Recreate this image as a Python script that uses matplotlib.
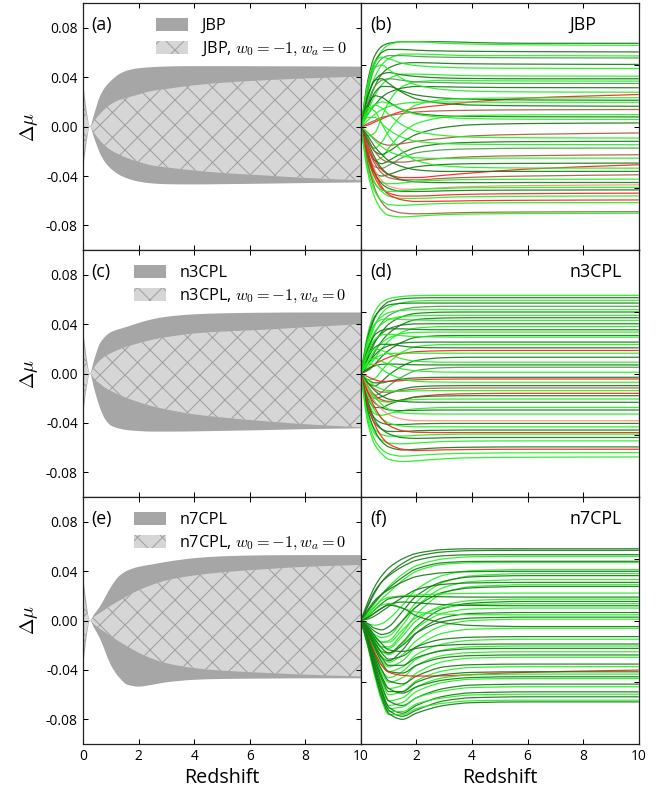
import numpy as np
import matplotlib.pyplot as plt
from matplotlib.path import Path
from matplotlib.patches import PathPatch

plt.rcParams['font.family'] = ['Open Sans', 'DejaVu Sans']
plt.rcParams['mathtext.fontset'] = 'cm'
plt.rcParams['hatch.linewidth'] = 0.5
plt.rcParams['hatch.color'] = '#a0a0a0'

#-------------------------------------------
#   data (all delta-mu values in units of 1e-3)
#-------------------------------------------
MODELS = ['JBP', 'n3CPL', 'n7CPL']
PANEL_TAGS = [('(a)', '(b)'), ('(c)', '(d)'), ('(e)', '(f)')]

Z_BAND = [0, 0.1, 0.25, 0.4, 0.6, 0.8, 1.0, 1.3, 1.6, 2.0, 2.5, 3.0, 4.0, 5.0, 6.5, 8.0, 10.0]

JBP_FULL_HI = [37, 18, 0, 10, 24, 32, 37, 42.5, 45.5, 47.3, 48.2, 48.7, 49, 49, 48.9, 48.8, 48.6]
JBP_FULL_LO = [-36, -17, 0, -9, -21, -29, -34, -39, -42, -44.5, -46, -46.6, -46.8, -46.6, -46.2, -45.7, -45.2]
JBP_LCDM_HI = [28, 12, 0, 4.5, 10, 14.5, 18, 21.5, 23.5, 26, 29, 30.5, 33.5, 35.5, 37.5, 39, 40.5]
JBP_LCDM_LO = [-28, -12, 0, -5, -11, -15.5, -19, -22.5, -25.5, -28.5, -31.5, -33, -35.5, -37.5, -39.5, -41.5, -43.5]

N3_FULL_HI = [37, 18, 0, 11, 24, 30, 33.5, 36, 38, 41, 44, 46, 48, 48.8, 49.3, 49.5, 49.5]
N3_FULL_LO = [-35, -16, 0, -12, -27, -37, -42, -44.5, -45.8, -46.5, -47, -47, -46.8, -46.4, -45.8, -45, -44.3]
N3_LCDM_HI = [28, 12, 0, 5, 10.5, 14, 16.5, 19.5, 22, 24.5, 27.5, 29.5, 32.5, 34, 35.5, 37.5, 40]
N3_LCDM_LO = [-28, -12, 0, -4, -8, -11.5, -14, -17, -20, -23, -26.5, -29, -33, -35.5, -38.5, -41, -43.5]

N7_FULL_HI = [38, 18, 0, 5, 11, 19, 27, 36, 40.5, 43.5, 45.5, 47.5, 50.5, 52, 52.8, 53, 53]
N7_FULL_LO = [-40, -18, 0, -6, -14, -25, -36, -46, -52, -53.5, -52, -50, -48, -47.3, -47, -46.8, -46.8]
N7_LCDM_HI = [28, 12, 0, 3, 6, 9, 12, 16, 20, 24.5, 29, 32.5, 36.5, 39, 41.5, 43.5, 45]
N7_LCDM_LO = [-28, -12, 0, -3, -6.5, -9.5, -12.5, -17, -21, -26, -31, -34.5, -38.5, -40.5, -42.3, -43.8, -45.3]

Z_KNOTS = [0, 0.25, 0.5, 0.75, 1.0, 1.5, 2.0, 3.0, 4.0, 6.0, 10.0]

# kind: d dark green, g light green, m mid green, r red, b brown, p pink
JBP_KIND = 'dgdgmdggdg' + 'mdrgdgdbgd' + 'gdbgdgmbgd' + 'rgdbgdpgdr' + 'grgbgg'
JBP_LINES = [
    [0, 30, 46, 52, 54, 55, 55, 55, 54.5, 54, 54],
    [0, 22, 40, 49, 53, 55, 55, 54, 53.5, 53, 52.7],
    [0, 26, 42, 48, 50, 50, 49.5, 49, 48.8, 48.6, 48.4],
    [0, 18, 32, 40, 44, 47, 47, 46.5, 46, 46, 45.8],
    [0, 24, 38, 44, 46, 46, 45.5, 45, 44.8, 44.6, 44.5],
    [0, 14, 26, 34, 38, 41, 41.5, 41, 40.7, 40.5, 40.3],
    [0, 28, 42, 45, 44, 41, 39.5, 38.5, 38, 37.8, 37.7],
    [0, 10, 20, 27, 31, 34, 34, 33.5, 33, 32.8, 32.7],
    [0, 20, 30, 34, 35, 33.5, 32.5, 31.5, 31.2, 31, 31],
    [0, -6, -4, 6, 16, 26, 29, 30, 29.8, 29.6, 29.5],
    [0, 16, 26, 30, 31, 30, 29, 28.5, 28.2, 28, 28],
    [0, 8, 14, 19, 22, 25, 26, 25.8, 25.5, 25.3, 25.2],
    [0, 1, 3, 5, 7, 10, 12, 14, 16, 18.5, 20.8],
    [0, 26, 38, 40, 37, 31, 27, 24, 23, 22.5, 22.3],
    [0, 12, 22, 26, 26, 23, 20.5, 18.5, 17.8, 17.3, 17.1],
    [0, -10, -14, -10, -3, 8, 14, 17.5, 18.3, 18.6, 18.7],
    [0, 20, 30, 31, 28, 22, 18, 15, 14, 13.5, 13.2],
    [0, 2, 4, 6, 7, 8.5, 9.5, 10.3, 10.6, 10.9, 11.1],
    [0, 4, 8, 11, 13, 15, 15.8, 16, 15.9, 15.8, 15.8],
    [0, 14, 20, 19, 16, 11, 8.5, 7, 6.6, 6.4, 6.3],
    [0, -14, -22, -20, -14, -4, 2, 6, 7.2, 7.6, 7.8],
    [0, -8, -16, -18, -16, -10, -5, -0.5, 1.2, 2, 2.4],
    [0, -4, -8, -11, -12, -11, -9.5, -7.5, -6, -5, -4.1],
    [0, 8, 14, 16, 15, 11, 8, 6, 5.2, 4.8, 4.6],
    [0, -14, -22, -24, -22, -17, -13.5, -11, -10.2, -9.7, -9.5],
    [0, 10, 14, 12, 8, 1, -3, -5.8, -6.8, -7.2, -7.4],
    [0, -18, -26, -27, -25, -20, -17, -15, -14.4, -14, -13.9],
    [0, -8, -16, -21, -23, -23, -22, -20.5, -19.5, -18.8, -18.2],
    [0, 6, 6, 2, -2, -7, -9.5, -11, -11.4, -11.6, -11.7],
    [0, -20, -30, -32, -31, -28, -26, -24.5, -24, -23.8, -23.6],
    [0, -12, -22, -28, -31, -33, -33, -31.5, -30, -27.5, -24.7],
    [0, 12, 10, 2, -6, -16, -22, -25.5, -26.4, -26.8, -26.9],
    [0, -6, -13, -18, -22, -26, -28, -29, -29, -29, -29],
    [0, -14, -24, -30, -33, -34.5, -34.5, -33.5, -32.8, -32, -31.2],
    [0, -4, -9, -13, -16, -19, -20.2, -20.6, -20.5, -20.4, -20.4],
    [0, -10, -20, -27, -31, -34.5, -35.8, -36.3, -36.3, -36.2, -36.2],
    [0, -16, -28, -35, -38.5, -40.5, -40.5, -39.5, -38.8, -38.2, -37.7],
    [0, -22, -32, -36, -37, -36.5, -35.5, -34.6, -34.3, -34.1, -34],
    [0, -18, -30, -37, -40, -42, -42, -41.6, -41.3, -41.1, -41],
    [0, -20, -33, -40, -43, -45, -45, -44.3, -43.8, -43.4, -43.1],
    [0, -24, -36, -42, -45, -46.5, -46.5, -45.8, -45.4, -45.1, -44.9],
    [0, -16, -30, -39, -44, -47.5, -48.5, -48.3, -48, -47.7, -47.5],
    [0, -26, -37, -41, -42, -41.5, -40.8, -40, -39.6, -39.4, -39.3],
    [0, -24, -40, -49, -53.5, -56, -56.5, -56, -55.6, -55.3, -55.1],
    [0, -28, -42, -48, -50.5, -51, -50.5, -49.8, -49.5, -49.3, -49.2],
    [0, -30, -46, -54, -57.5, -58.5, -58, -57, -56.6, -56.3, -56.1],
]

N3_KIND = 'gdgdmgdgdg' + 'dgdgdgdgdr' + 'gdgdmgdrgd' + 'bgrdgdgdpd' + 'gdgrgdgdrg' + 'g'
N3_LINES = [
    [0, 26, 40, 46, 48.5, 50, 50.5, 50.7, 50.7, 50.7, 50.7],
    [0, 22, 36, 43, 46.5, 48.5, 49, 49.2, 49.2, 49.2, 49.2],
    [0, 18, 31, 39, 43, 46, 47, 47.5, 47.5, 47.5, 47.5],
    [0, 24, 37, 42, 44.5, 45.5, 45.7, 45.7, 45.7, 45.7, 45.7],
    [0, 14, 26, 33, 37.5, 41.5, 43, 43.6, 43.6, 43.6, 43.6],
    [0, 20, 32, 37, 39.5, 41, 41.4, 41.4, 41.4, 41.4, 41.4],
    [0, 10, 20, 27, 32, 37, 39, 39.8, 39.9, 39.9, 39.9],
    [0, 16, 27, 32, 35, 37, 37.5, 37.7, 37.7, 37.7, 37.7],
    [0, 6, 14, 21, 26, 32, 35, 36, 36.2, 36.2, 36.2],
    [0, 22, 32, 35, 35.5, 35, 34.7, 34.5, 34.5, 34.5, 34.5],
    [0, 12, 21, 26, 29, 31.5, 32.2, 32.3, 32.3, 32.3, 32.3],
    [0, 4, 10, 16, 21, 27, 29.5, 30.5, 30.6, 30.6, 30.6],
    [0, 16, 25, 28, 29, 29, 28.6, 28.4, 28.4, 28.4, 28.4],
    [0, 8, 15, 20, 23, 26, 26.7, 26.9, 26.9, 26.9, 26.9],
    [0, 2, 6, 11, 15, 20.5, 23.5, 24.6, 24.7, 24.7, 24.7],
    [0, 14, 22, 25, 25.5, 24.5, 24, 23.7, 23.6, 23.6, 23.6],
    [0, 6, 12, 16, 18, 19.8, 20.3, 20.4, 20.4, 20.4, 20.4],
    [0, -4, -3, 2, 7, 14, 17.5, 18.8, 18.9, 18.9, 18.9],
    [0, 10, 17, 19, 19, 17.8, 17, 16.7, 16.7, 16.7, 16.7],
    [0, 3, 6, 8.5, 10.5, 13, 14.2, 14.8, 15, 15, 15],
    [0, 6, 10, 12, 13, 13.2, 13.2, 13.2, 13.2, 13.2, 13.2],
    [0, -6, -8, -5, -1, 5, 8.5, 10.3, 10.6, 10.6, 10.6],
    [0, 12, 16, 15, 13, 9.5, 8, 7.4, 7.4, 7.4, 7.4],
    [0, 3, 5, 6, 6.2, 6, 5.7, 5.6, 5.6, 5.6, 5.6],
    [0, -10, -14, -12, -8, -2, 2, 3.8, 4.1, 4.1, 4.1],
    [0, 8, 10, 8, 6, 3, 1.8, 1, 0.9, 0.9, 0.9],
    [0, -4, -6, -6, -5, -3.5, -2.8, -2.4, -2.4, -2.4, -2.4],
    [0, -2, -4, -5, -5, -4.5, -4, -3.6, -3.5, -3.5, -3.5],
    [0, 6, 6, 3, 0, -3.5, -5, -5.5, -5.6, -5.6, -5.6],
    [0, -12, -16, -15, -13, -10, -8.5, -7.9, -7.8, -7.8, -7.8],
    [0, -6, -10, -12, -12, -11, -10, -9.4, -9.3, -9.3, -9.3],
    [0, -4, -8, -10, -11, -11.5, -11.2, -11, -11, -11, -11],
    [0, -8, -14, -17, -18, -17, -15, -13.5, -13, -12.8, -12.8],
    [0, -16, -22, -22, -20, -17, -15.2, -14.5, -14.3, -14.3, -14.3],
    [0, -10, -16, -18, -18.5, -17.5, -16.8, -16.5, -16.5, -16.5, -16.5],
    [0, -6, -11, -14.5, -16.5, -18, -18.5, -18.6, -18.6, -18.6, -18.6],
    [0, -18, -26, -27, -26, -24, -22.8, -22, -21.9, -21.9, -21.9],
    [0, -12, -19, -22, -23.5, -24, -23.8, -23.6, -23.6, -23.6, -23.6],
    [0, -10, -18, -23, -26.5, -29.5, -30.5, -30.6, -30.6, -30.6, -30.6],
    [0, -20, -29, -32, -33, -33, -32.6, -32.3, -32.3, -32.3, -32.3],
    [0, -8, -15, -20, -23, -25.5, -26, -26.2, -26.2, -26.2, -26.2],
    [0, -22, -32, -36, -37.5, -37.5, -37, -36.7, -36.6, -36.6, -36.6],
    [0, -14, -24, -29, -32, -34, -34.5, -34.5, -34.5, -34.5, -34.5],
    [0, -12, -22, -29, -33.5, -37, -38, -38.2, -38.2, -38.2, -38.2],
    [0, -26, -36, -39.5, -40.5, -40.5, -40, -39.4, -39.2, -39.2, -39.2],
    [0, -18, -30, -36, -39, -41.5, -42, -41.6, -41.4, -41.4, -41.4],
    [0, -28, -39, -43, -45, -45.5, -45, -44, -43.7, -43.6, -43.6],
    [0, -24, -37, -44, -47.5, -49.5, -49, -48, -47.7, -47.5, -47.5],
    [0, -20, -33, -41, -45.5, -49, -49.8, -49.4, -49.2, -49, -49],
    [0, -30, -43, -49, -52, -53.5, -53, -52, -51.6, -51.3, -51.2],
    [0, -32, -46, -52, -55.5, -57, -56.5, -55.2, -54.5, -54.2, -54],
]

N7_KIND = 'ddgdgdgdgd' + 'gdgdgdgdgd' + 'gdgdgdgdgd' + 'gdgdgdgrdg' + 'dgdgdgdgd'
N7_LINES = [
    [0, 12, 22, 29, 34, 40, 43.5, 46, 46.5, 46.5, 46.5],
    [0, 9, 18, 25, 30, 37, 41.5, 44.5, 45.3, 45.5, 45.5],
    [0, 5, 11, 17, 22, 30, 35.5, 40, 41.3, 41.6, 41.6],
    [0, 10, 19, 25, 29, 35, 39, 42, 42.6, 42.7, 42.7],
    [0, 4, 9, 14, 18, 26, 32, 36.5, 37.5, 37.7, 37.7],
    [0, 6, 12, 17, 21, 28, 33.5, 37.5, 38.3, 38.4, 38.4],
    [0, -2, -3, -2, 1, 10, 20, 29.5, 32.3, 33, 33],
    [0, 7, 13, 17, 20, 25, 28.5, 31, 31.7, 31.9, 31.9],
    [0, -4, -9, -11, -10, 0, 12, 25, 29, 30.4, 30.4],
    [0, -2, -5, -6, -4, 6, 16, 25.5, 28.3, 29.1, 29.1],
    [0, -5, -11, -14, -13, -3, 9, 21.5, 25.3, 26.5, 26.5],
    [0, 1, 3, 6, 9, 15, 20, 23.5, 24.4, 24.7, 24.7],
    [0, -6, -13, -17, -17, -8, 4, 18, 22, 23.2, 23.2],
    [0, -3, -7, -9, -8, 0, 9, 18.5, 21.2, 22.1, 22.1],
    [0, 4, 9, 13, 15, 16, 16.5, 17.3, 17.6, 17.8, 17.8],
    [0, 3, 7, 11, 14, 15.5, 15.6, 15.4, 15.2, 15.2, 15.2],
    [0, -5, -12, -17, -18, -10, 0, 10, 13, 13.9, 13.9],
    [0, -7, -15, -20, -21, -14, -4, 8, 11.3, 12.4, 12.4],
    [0, -4, -10, -14, -14, -6, 2, 8.5, 10.3, 10.9, 10.9],
    [0, 2, 5, 8, 10.5, 12, 11.5, 10.3, 9.8, 9.6, 9.6],
    [0, -6, -14, -20, -22, -15, -5, 5, 7.5, 8.1, 8.1],
    [0, -8, -17, -24, -26, -19, -8, 2, 4.6, 5.2, 5.2],
    [0, 3, 7, 10, 11, 8, 5.5, 4.2, 3.8, 3.7, 3.7],
    [0, -5, -12, -18, -21, -16, -8, -0.5, 1.6, 2.2, 2.2],
    [0, -7, -16, -23, -27, -22, -13, -3, 0, 0.9, 0.9],
    [0, 2, 5, 8, 10, 8, 3, -1.5, -3.2, -3.9, -3.9],
    [0, -8, -18, -26, -30, -26, -17, -8, -5.6, -5, -5],
    [0, -6, -14, -21, -25, -23, -17, -12, -10.8, -10.4, -10.4],
    [0, -9, -20, -29, -33, -30, -22, -15, -12.8, -12.1, -12.1],
    [0, -4, -10, -15, -19, -20, -18, -16, -15.4, -15.2, -15.2],
    [0, -10, -22, -32, -37, -33, -25, -19, -17, -16.5, -16.5],
    [0, -7, -16, -24, -29, -29, -24, -19.5, -18.3, -18, -18],
    [0, -11, -24, -34, -40, -37, -29, -22.5, -20.7, -20.2, -20.2],
    [0, -8, -18, -27, -33, -34, -29, -24, -22.7, -22.3, -22.3],
    [0, -12, -26, -37, -44, -42, -34, -26.5, -24.3, -23.8, -23.8],
    [0, -10, -22, -32, -39, -41, -36, -30, -28.6, -28.2, -28.2],
    [0, -13, -28, -40, -48, -46, -39, -32.5, -30.4, -29.9, -29.9],
    [0, -11, -21, -29, -33.5, -35.5, -36, -35.8, -35, -33.5, -32.1],
    [0, -12, -26, -38, -46, -46, -40, -35, -33.6, -33.2, -33.2],
    [0, -14, -30, -43, -52, -50, -43, -37, -35.2, -34.7, -34.7],
    [0, -11, -24, -36, -44, -47, -43, -38.5, -36.9, -36.4, -36.4],
    [0, -15, -32, -46, -55, -53, -46, -40, -38, -37.5, -37.5],
    [0, -13, -28, -42, -52, -55, -50, -44, -41.8, -41.2, -41.2],
    [0, -16, -34, -48, -57, -56, -50, -45.5, -43.4, -42.9, -42.9],
    [0, -14, -30, -45, -56, -60, -55, -49, -46.8, -46.2, -46.2],
    [0, -16, -35, -50, -59, -59, -54, -50, -48.2, -47.7, -47.7],
    [0, -15, -32, -47, -58, -62, -58, -52, -50, -49.4, -49.4],
    [0, -17, -36, -52, -61, -61, -57, -53.5, -52, -51.6, -51.6],
    [0, -16, -34, -50, -60, -64, -60, -55, -53.2, -52.7, -52.7],
]

BANDS = [
    (JBP_FULL_LO, JBP_FULL_HI, JBP_LCDM_LO, JBP_LCDM_HI),
    (N3_FULL_LO, N3_FULL_HI, N3_LCDM_LO, N3_LCDM_HI),
    (N7_FULL_LO, N7_FULL_HI, N7_LCDM_LO, N7_LCDM_HI),
]
LINES = [(JBP_LINES, JBP_KIND), (N3_LINES, N3_KIND), (N7_LINES, N7_KIND)]

X_TICKS = [0, 2, 4, 6, 8, 10]
Y_TICKS = [-0.08, -0.04, 0.0, 0.04, 0.08]

COLORS = {'d': '#137a13', 'g': '#1cf01c', 'm': '#4a9c4a',
          'r': '#ff1c1c', 'b': '#a85a3a', 'p': '#ff8a7a'}


# smooth (monotone cubic) path through the read-off points
def smooth_verts(x, y):
    x = np.asarray(x, float)
    y = np.asarray(y, float)
    h = np.diff(x)
    d = np.diff(y) / h
    m = np.zeros_like(y)
    m[0], m[-1] = d[0], d[-1]
    for k in range(1, len(x) - 1):
        if d[k - 1] * d[k] > 0:
            w1 = 2 * h[k] + h[k - 1]
            w2 = h[k] + 2 * h[k - 1]
            m[k] = (w1 + w2) / (w1 / d[k - 1] + w2 / d[k])
    verts = [(x[0], y[0])]
    for k in range(len(x) - 1):
        verts += [(x[k] + h[k] / 3, y[k] + m[k] * h[k] / 3),
                  (x[k + 1] - h[k] / 3, y[k + 1] - m[k + 1] * h[k] / 3),
                  (x[k + 1], y[k + 1])]
    return verts


def curve_path(x, y):
    v = smooth_verts(x, y)
    return Path(v, [Path.MOVETO] + [Path.CURVE4] * (len(v) - 1))


def band_path(x, lo, hi):
    up = smooth_verts(x, hi)
    dn = smooth_verts(x, lo)[::-1]
    verts = up + dn + [up[0]]
    codes = ([Path.MOVETO] + [Path.CURVE4] * (len(up) - 1) +
             [Path.LINETO] + [Path.CURVE4] * (len(dn) - 1) + [Path.CLOSEPOLY])
    return Path(verts, codes)


#-------------------------------------------
#              figure
#-------------------------------------------
DPI = 150
fig, axes = plt.subplots(3, 2, figsize=(664 / DPI, 789 / DPI), dpi=DPI)
fig.subplots_adjust(left=0.125, right=0.962, top=0.996, bottom=0.057,
                    hspace=0, wspace=0)

zb = np.array(Z_BAND)
zk = np.array(Z_KNOTS)

for row in range(3):
    axl, axr = axes[row]
    full_lo, full_hi, lcdm_lo, lcdm_hi = BANDS[row]
    name = MODELS[row]

    axl.add_patch(PathPatch(band_path(zb, np.array(full_lo) * 1e-3, np.array(full_hi) * 1e-3),
                            facecolor='#a6a6a6', edgecolor='#a6a6a6', linewidth=0,
                            label=name))
    axl.add_patch(PathPatch(band_path(zb, np.array(lcdm_lo) * 1e-3, np.array(lcdm_hi) * 1e-3),
                            facecolor='#d6d6d6', edgecolor='#a0a0a0', linewidth=0,
                            hatch='xx', label=name + r', $w_0=-1, w_a=0$'))
    axl.set_ylim(-0.1, 0.1)
    axl.set_yticks(Y_TICKS)
    axl.set_yticklabels(['%.2f' % v if v != 0 else '0.00' for v in Y_TICKS])
    axl.set_ylabel(r'$\Delta\mu$', fontsize=9.5, labelpad=3)
    axl.legend(loc='upper right', bbox_to_anchor=(0.973, 0.965), borderaxespad=0,
               frameon=False, fontsize=7.8, handlelength=2.0, handleheight=0.8,
               labelspacing=0.35)
    axl.text(0.03, 0.912, PANEL_TAGS[row][0], transform=axl.transAxes,
             fontsize=8.5, ha='left', va='center')

    curves, kinds = LINES[row]
    for vals, k in zip(curves, kinds):
        axr.add_patch(PathPatch(curve_path(zk, np.array(vals) * 1e-3), fill=False,
                                edgecolor=COLORS[k], lw=0.6, alpha=0.9))
    axr.set_ylim(-0.08, 0.08)
    axr.set_yticks(Y_TICKS)
    axr.set_yticklabels([])
    axr.text(0.032, 0.912, PANEL_TAGS[row][1], transform=axr.transAxes,
             fontsize=8.5, ha='left', va='center')
    axr.text(0.75, 0.912, name, transform=axr.transAxes,
             fontsize=8.5, ha='left', va='center')

    for ax in (axl, axr):
        ax.set_xlim(0, 10)
        ax.set_xticks(X_TICKS)
        ax.tick_params(direction='in', top=True, right=True, length=2.4,
                       width=0.5, labelsize=6.6, pad=2.5)
        for sp in ax.spines.values():
            sp.set_linewidth(0.6)
            sp.set_color('#222222')
        if row < 2:
            ax.set_xticklabels([])
        else:
            ax.set_xlabel('Redshift', fontsize=9.5, labelpad=2)

axes[2][1].set_xticklabels([''] + [str(t) for t in X_TICKS[1:]])

fig.savefig('out.png', dpi=DPI)
